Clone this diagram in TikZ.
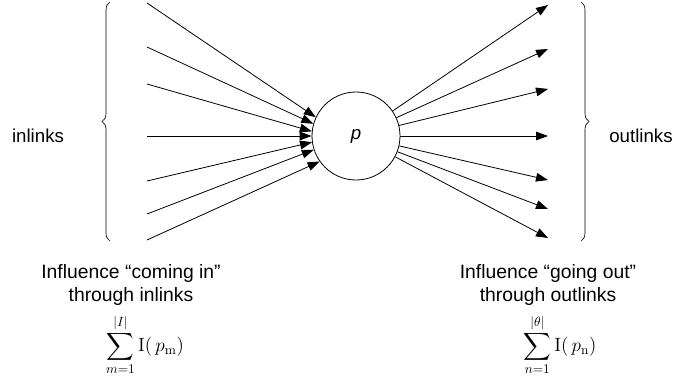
\documentclass[tikz,border=0pt]{standalone}
\usepackage{amsmath}
\usepackage[no-math]{fontspec}
\setmainfont{Liberation Sans}
\usetikzlibrary{arrows.meta, decorations.pathreplacing}
\tikzset{every node/.append style={align=center}}
\tikzset{
  link/.style={-{Triangle[length=9pt,width=6.5pt]}, line width=0.6pt},
  peer/.style={circle, draw, line width=0.6pt, minimum size=66pt, inner sep=0pt},
  curly/.style={decorate, decoration={brace, amplitude=6pt}, line width=0.5pt},
  lbl/.style={font=\fontsize{14}{15}\selectfont},
  infl/.style={font=\fontsize{14.5}{17.5}\selectfont, inner sep=0pt},
  summ/.style={font=\fontsize{14.4}{16}\selectfont, inner sep=0pt},
}

\begin{document}
\begin{tikzpicture}[x=0.75pt,y=-0.75pt]
\useasboundingbox (0,0) rectangle (678,382);

% ── Page p ────────────────────────────────────────────────────────────────────
\node[peer, font=\fontsize{14}{15}\selectfont\itshape] (p) at (356,136) {p};

% ── Inlinks ───────────────────────────────────────────────────────────────────
\foreach \k/\ypos/\ang in {1/3/155, 2/47/164, 3/84/174, 4/136/180,
                           5/181/188, 6/214/198, 7/240/215}
{
  \coordinate (in\k) at (147,\ypos);
  \draw[link] (in\k) -- (p.\ang);
}

% ── Outlinks ──────────────────────────────────────────────────────────────────
\foreach \k/\ypos in {1/5, 2/49, 3/89, 4/136, 5/180, 6/209, 7/238}
{
  \coordinate (out\k) at (548,\ypos);
  \draw[link] (p) -- (out\k);
}

% Braces
\coordinate (lbtop) at (110,2);
\coordinate (lbbot) at (110,241);
\coordinate (rbtop) at (581,2);
\coordinate (rbbot) at (581,241);
\draw[curly] (lbbot) -- (lbtop);
\draw[curly] (rbtop) -- (rbbot);

\node[lbl] (inl)  at (38,136)  {inlinks};
\node[lbl] (outl) at (641,136) {outlinks};

% ── Influence texts ───────────────────────────────────────────────────────────
\node[infl] (infin)  at (131,285) {Influence “coming in”\\ through inlinks};
\node[infl] (infout) at (548,285) {Influence “going out”\\ through outlinks};

\node[summ] (sumin)  at (145,345)
      {$\displaystyle\sum_{m=1}^{|I|}\mathrm{I}(\,p_{\mathrm{m}})$};
\node[summ] (sumout) at (560,345)
      {$\displaystyle\sum_{n=1}^{|\theta|}\mathrm{I}(\,p_{\mathrm{n}})$};

\end{tikzpicture}
\end{document}
